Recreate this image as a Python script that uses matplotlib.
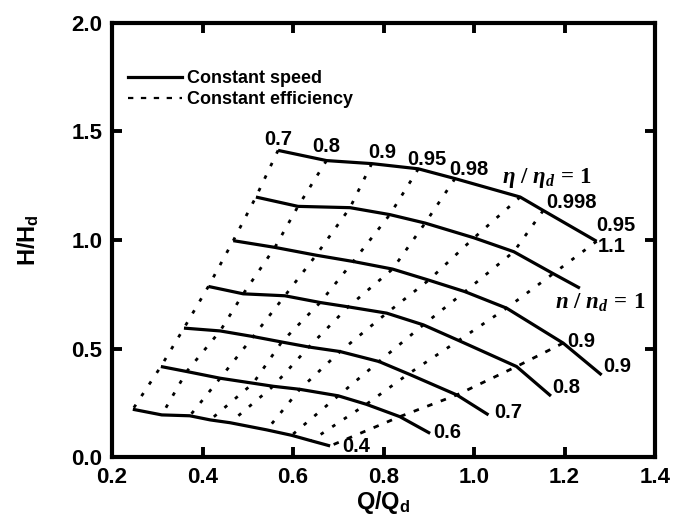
import matplotlib
matplotlib.use("Agg")
import matplotlib.pyplot as plt
from matplotlib.lines import Line2D

plt.rcParams['font.family'] = ['Liberation Sans', 'DejaVu Sans']
plt.rcParams['font.weight'] = 'bold'
plt.rcParams['mathtext.fontset'] = 'custom'
plt.rcParams['mathtext.bf'] = 'Liberation Sans:bold'
plt.rcParams['mathtext.it'] = 'Liberation Serif:italic:bold'
plt.rcParams['mathtext.rm'] = 'Liberation Serif:bold'

# ---- data: constant speed curves, points at efficiency crossings (in order) ----
speed_labels = ['1.1', r'$n\ /\ n_d\,=\,1$', '0.9', '0.8', '0.7', '0.6', '0.4']

Q_n110 = [0.567, 0.674, 0.774, 0.877, 0.958, 1.102, 1.153, 1.271]
H_n110 = [1.413, 1.366, 1.352, 1.328, 1.283, 1.198, 1.136, 0.994]
Q_n100 = [0.518, 0.611, 0.726, 0.814, 0.892, 1.000, 1.088, 1.175]
H_n100 = [1.198, 1.155, 1.149, 1.117, 1.078, 1.010, 0.946, 0.845]
Q_n090 = [0.468, 0.560, 0.651, 0.733, 0.820, 0.900, 0.980, 1.072, 1.197]
H_n090 = [0.997, 0.966, 0.930, 0.901, 0.866, 0.815, 0.762, 0.686, 0.525]
Q_n080 = [0.413, 0.490, 0.582, 0.660, 0.722, 0.807, 0.888, 0.966, 1.094]
H_n080 = [0.786, 0.752, 0.743, 0.712, 0.692, 0.663, 0.609, 0.537, 0.417]
Q_n070 = [0.359, 0.439, 0.512, 0.575, 0.635, 0.704, 0.790, 0.855, 0.962]
H_n070 = [0.594, 0.581, 0.555, 0.530, 0.507, 0.486, 0.440, 0.383, 0.286]
Q_n060 = [0.308, 0.365, 0.439, 0.512, 0.556, 0.615, 0.700, 0.762, 0.836]
H_n060 = [0.417, 0.394, 0.363, 0.340, 0.326, 0.312, 0.282, 0.243, 0.186]
Q_n040 = [0.246, 0.310, 0.372, 0.417, 0.461, 0.542, 0.597, 0.640, 0.682]
H_n040 = [0.220, 0.194, 0.190, 0.171, 0.158, 0.125, 0.100, 0.075, 0.051]

# tails of the speed curves beyond the last efficiency point
Q_tail = [[], [1.234], [1.282], [1.170], [1.032], [0.903], []]
H_tail = [[], [0.778], [0.378], [0.281], [0.194], [0.109], []]

eff_labels = ['0.7', '0.8', '0.9', '0.95', '0.98', r'$\eta\ /\ \eta_d\,=\,1$', '0.998', '0.95', '0.9']

Q_curves = [Q_n110, Q_n100, Q_n090, Q_n080, Q_n070, Q_n060, Q_n040]
H_curves = [H_n110, H_n100, H_n090, H_n080, H_n070, H_n060, H_n040]

# label offsets (points)
speed_off = [(11, -3.5), (15, -10), (11, 6), (11, 6), (14, 2), (12.5, 0.6), (18.6, -0.4)]
eff_off = [(0, 8), (0, 10.4), (7.4, 8.3), (6.3, 7.0), (10.1, 6.5), (19.3, 14.0), (20.7, 6.0), (14, 11.5), (12.8, 1.2)]

fig = plt.figure(figsize=(6.78, 5.25), dpi=100)
ax = fig.add_axes([0.1652, 0.1295, 0.8009, 0.8267])

lw_s = 2.3
lw_e = 2.0
eff_dash = (0, (1.3, 3.7))
eff_dash_last = (0, (2.0, 3.2))

# constant speed curves
for i, (Q, H) in enumerate(zip(Q_curves, H_curves)):
    ax.plot(Q + Q_tail[i], H + H_tail[i], color='black', lw=lw_s,
            solid_capstyle='butt', solid_joinstyle='round', zorder=3)
    xe, ye = (Q + Q_tail[i])[-1], (H + H_tail[i])[-1]
    ax.annotate(speed_labels[i], (xe, ye), xytext=speed_off[i], textcoords='offset points',
                ha='center', va='center', fontsize=14.5 if i != 1 else 16.5,
                fontweight='bold')

# constant efficiency lines
n_eff = len(eff_labels)
for j in range(n_eff):
    qs = [Q[j] for Q in Q_curves if len(Q) > j]
    hs = [H[j] for H in H_curves if len(H) > j]
    ax.plot(qs, hs, color='black', lw=lw_e,
            linestyle=eff_dash_last if j == n_eff - 1 else eff_dash,
            dash_capstyle='butt', zorder=2)
    ax.annotate(eff_labels[j], (qs[0], hs[0]), xytext=eff_off[j], textcoords='offset points',
                ha='center', va='center', fontsize=14.5 if j != 5 else 16.5,
                fontweight='bold')

ax.set_xlim(0.2, 1.4)
ax.set_ylim(0.0, 2.0)
ax.set_xticks([0.2, 0.4, 0.6, 0.8, 1.0, 1.2, 1.4])
ax.set_yticks([0.0, 0.5, 1.0, 1.5, 2.0])
ax.set_xticklabels(['%.1f' % v for v in ax.get_xticks()])
ax.set_yticklabels(['%.1f' % v for v in ax.get_yticks()])
ax.tick_params(direction='in', length=7, width=2.8, top=True, right=True,
               labelsize=16, pad=7)
for lab in ax.get_xticklabels() + ax.get_yticklabels():
    lab.set_fontweight('bold')
for sp in ax.spines.values():
    sp.set_linewidth(3.0)

ax.set_xlabel(r'$\mathbf{Q/Q_d}$', fontsize=17, labelpad=1)
ax.set_ylabel(r'$\mathbf{H/H_d}$', fontsize=17, labelpad=22)

handles = [Line2D([], [], color='black', lw=lw_s),
           Line2D([], [], color='black', lw=1.6, linestyle=(0, (2.4, 3.4)))]
leg = ax.legend(handles, ['Constant speed', 'Constant efficiency'], loc='upper left',
                bbox_to_anchor=(0.029, 0.892), frameon=False, fontsize=13,
                handlelength=3.0, handletextpad=0.3, labelspacing=0.25, borderpad=0,
                borderaxespad=0)
for t in leg.get_texts():
    t.set_fontweight('bold')

fig.savefig('out.png', dpi=100)
